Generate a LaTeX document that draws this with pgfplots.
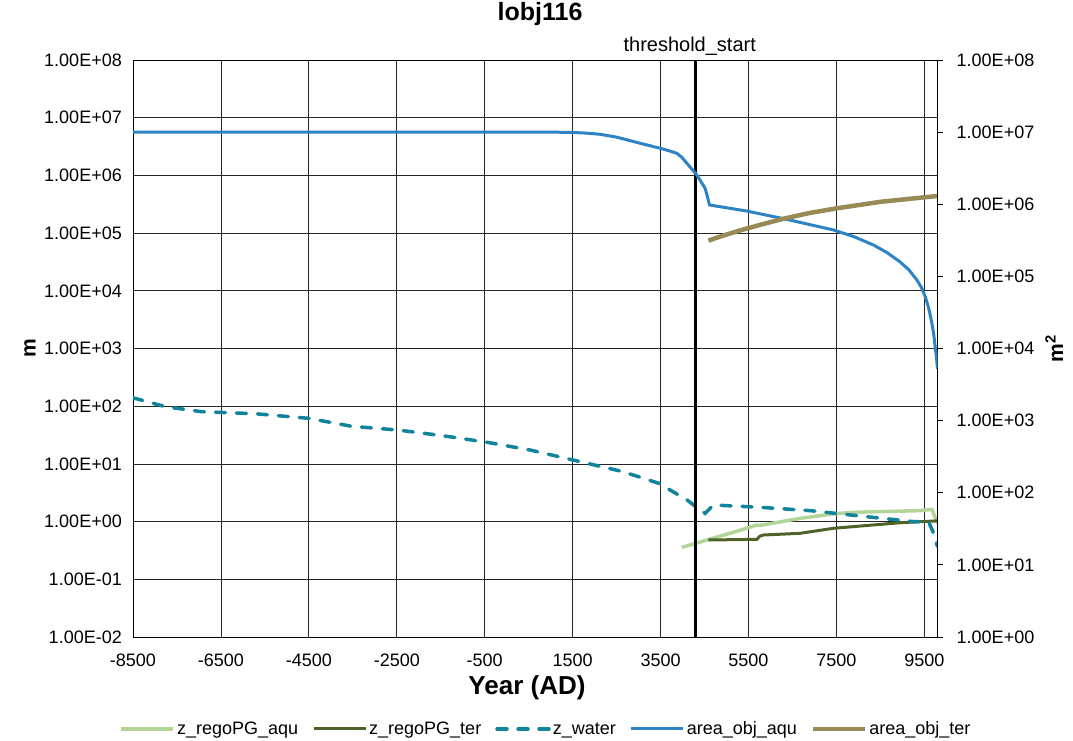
\documentclass[border=0pt]{standalone}
\usepackage{pgfplots}
\pgfplotsset{compat=1.18}
\usepackage{fontspec}
\setmainfont{Liberation Sans}
\definecolor{lgreen}{HTML}{B3D59A}
\definecolor{dgreen}{HTML}{4F6228}
\definecolor{wteal}{HTML}{10849B}
\definecolor{ablue}{HTML}{2E84C3}
\definecolor{atan}{HTML}{968B55}
\tikzset{
  sg/.style={lgreen, line width=3.5pt},
  dg/.style={dgreen, line width=3pt},
  wt/.style={wteal, line width=3.5pt, dash pattern=on 10pt off 11pt, line cap=round},
  bl/.style={ablue, line width=3pt},
  tn/.style={atan, line width=4.5pt},
}
\begin{document}
\begin{tikzpicture}
\path[use as bounding box] (0,0) rectangle (1073pt,740pt);
\begin{axis}[
  width=804.5pt, height=577pt, scale only axis,
  at={(133pt,103pt)}, anchor=south west,
  xmin=-8500, xmax=9800,
  ymode=log,
  ymin=1e-2, ymax=1e8,
  yminorticks=false,
  tick label style={font=\fontsize{18}{20}\selectfont},
  xtick={-8500,-6500,-4500,-2500,-500,1500,3500,5500,7500,9500},
  xticklabels={-8500,-6500,-4500,-2500,-500,1500,3500,5500,7500,9500},
  ytick={1e-2,1e-1,1,1e1,1e2,1e3,1e4,1e5,1e6,1e7,1e8},
  yticklabels={1.00E-02,1.00E-01,1.00E+00,1.00E+01,1.00E+02,1.00E+03,1.00E+04,1.00E+05,1.00E+06,1.00E+07,1.00E+08},
  xtick pos=bottom, ytick pos=left,
  major tick length=0pt,
  xmajorgrids, ymajorgrids,
  major grid style={black!85, line width=0.8pt},
  axis line style={black, line width=1pt},
  yticklabel style={anchor=east, inner sep=0pt, xshift=-11pt},
  xticklabel style={anchor=north, inner sep=0pt, yshift=-17pt},
  clip mode=individual,
  title={lobj116},
  title style={at={(axis description cs:0.506,1.0693)}, anchor=center, font=\fontsize{25}{28}\selectfont\bfseries},
  xlabel={Year (AD)},
  xlabel style={at={(axis description cs:0.4897,-0.0884)}, anchor=center, font=\fontsize{26}{28}\selectfont\bfseries},
  ylabel={m},
  ylabel style={at={(axis description cs:-0.128,0.5)}, anchor=center, font=\fontsize{21}{22}\selectfont\bfseries},
]
% z_regoPG_aqu
\addplot[sg] coordinates {(3984,0.358)(4300,0.42)(4629,0.50)(5159,0.653)(5691,0.873)(5760,0.86)(5850,0.88)(6676,1.14)(7434,1.36)(7890,1.45)(9407,1.55)(9672,1.63)(9760,1.10)(9800,0.93)};
% z_regoPG_ter
\addplot[dg] coordinates {(4590,0.48)(5691,0.493)(5760,0.56)(5842,0.586)(6676,0.627)(7434,0.766)(8952,0.957)(9800,1.03)};
% z_water
\addplot[wt] coordinates {(-8500,140)(-7756,97.7)(-6944,80.4)(-5724,74.1)(-4505,61.7)(-3531,44.9)(-2469,38.6)(-1417,30.5)(-446,23.7)(533,17.4)(1509,11.7)(2647,7.33)(3459,4.61)(4105,2.37)(4401,1.58)(4514,1.39)(4704,1.94)(5766,1.77)(6904,1.55)(8041,1.25)(9255,1.0)(9596,1.0)(9710,0.63)(9800,0.37)};
% threshold
\addplot[black, line width=2.8pt] coordinates {(4300,1e-2)(4300,1e8)};
\node[font=\fontsize{20}{22}\selectfont, anchor=center, xshift=-6pt, yshift=14pt] at (axis cs:4300,1e8) {threshold\_start};
\end{axis}
\begin{axis}[
  width=804.5pt, height=577pt, scale only axis,
  at={(133pt,103pt)}, anchor=south west,
  xmin=-8500, xmax=9800,
  ymode=log,
  ymin=1, ymax=1e8,
  yminorticks=false,
  tick label style={font=\fontsize{18}{20}\selectfont},
  axis x line=none,
  axis y line*=right,
  ytick={1,1e1,1e2,1e3,1e4,1e5,1e6,1e7,1e8},
  yticklabels={1.00E+00,1.00E+01,1.00E+02,1.00E+03,1.00E+04,1.00E+05,1.00E+06,1.00E+07,1.00E+08},
  tick align=outside, major tick length=5pt,
  tick style={black, line width=0.8pt},
  axis line style={black, line width=1pt},
  yticklabel style={anchor=west, inner sep=0pt, xshift=14pt},
  ylabel={m\textsuperscript{2}},
  ylabel style={at={(axis description cs:1.145,0.5)}, anchor=center, font=\fontsize{21}{22}\selectfont\bfseries},
  legend columns=5,
  legend style={at={(axis description cs:0.5134,-0.1594)}, anchor=center, draw=none, fill=none,
    font=\fontsize{18}{20}\selectfont, nodes={inner xsep=2pt},
    /tikz/every even column/.append style={column sep=12pt}},
  legend cell align=left,
  legend image code/.code={\draw[#1] (0pt,0pt) -- (52pt,0pt);},
]
\addlegendimage{sg}\addlegendentry{z\_regoPG\_aqu}
\addlegendimage{dg}\addlegendentry{z\_regoPG\_ter}
\addlegendimage{wt}\addlegendentry{z\_water}
% area_obj_aqu
\addplot[bl] coordinates {(-8500,1.0e7)(1000,1.0e7)(1500,9.9e6)(1800,9.7e6)(2126,9.33e6)(2505,8.51e6)(3000,7.1e6)(3491,5.97e6)(3700,5.5e6)(3870,5.08e6)(3980,4.5e6)(4098,3.70e6)(4325,2.55e6)(4514,1.66e6)(4567,1.27e6)(4613,9.77e5)(5463,8.05e5)(6373,6.17e5)(7434,4.40e5)(7900,3.55e5)(8344,2.72e5)(8650,2.14e5)(8952,1.58e5)(9150,1.23e5)(9331,8.91e4)(9430,7.08e4)(9520,5.25e4)(9600,3.63e4)(9672,2.24e4)(9715,1.55e4)(9747,1.06e4)(9775,7.59e3)(9800,5.25e3)};
\addlegendentry{area\_obj\_aqu}
% area_obj_ter
\addplot[tn] coordinates {(4590,3.13e5)(4800,3.47e5)(5000,3.80e5)(5300,4.32e5)(5800,5.25e5)(6300,6.31e5)(6900,7.59e5)(7511,8.79e5)(8497,1.08e6)(9786,1.30e6)};
\addlegendentry{area\_obj\_ter}
\end{axis}
\end{tikzpicture}
\end{document}
